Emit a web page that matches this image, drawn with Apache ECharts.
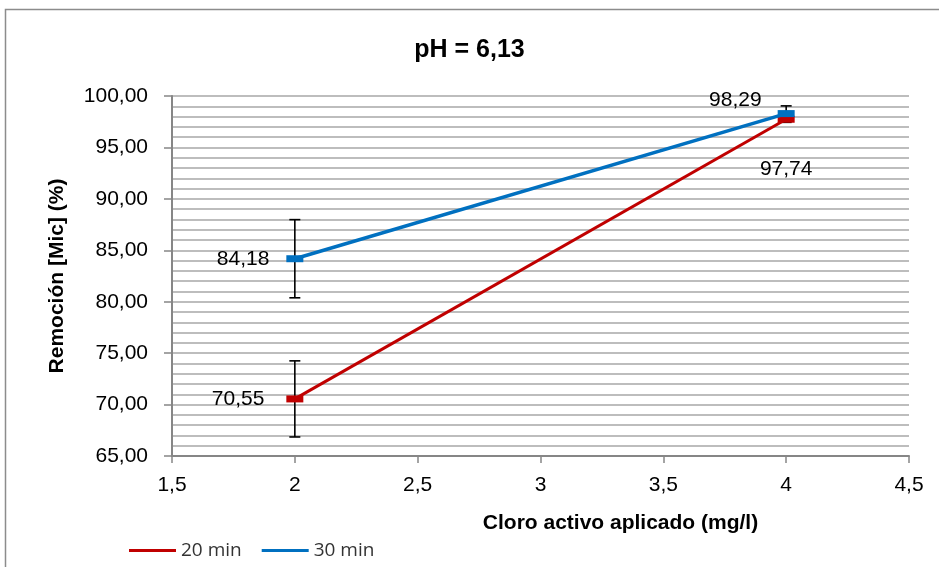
<!DOCTYPE html>
<html>
<head>
<meta charset="utf-8">
<script src="https://cdn.jsdelivr.net/npm/echarts@6/dist/echarts.min.js"></script>
<style>
  html, body { margin: 0; padding: 0; background: #fff; }
  #chart { width: 939px; height: 567px; }
</style>
</head>
<body>
<div id="chart"></div>
<script>
// Applied active chlorine dose (mg/l)
const doses = [2, 4];
// Removal of [Mic] (%) per contact time
const rem20 = [70.55, 97.74];
const rem30 = [84.18, 98.29];
// Error bar half-widths
const err20 = [3.7, 0.3];
const err30 = [3.8, 0.75];
const seriesNames = ['20 min', '30 min'];

const fmt = v => v.toFixed(2).replace('.', ',');
const FONT = "'Liberation Sans', Arial, sans-serif";

function errTriples(vals, errs) { return doses.map((d, i) => [d, vals[i], errs[i]]); }

// Point labels placed beside each marker
function points(vals, placements) {
  return doses.map((d, i) => ({ value: [d, vals[i]], label: placements[i] }));
}

function renderErr(params, api) {
  const x = api.value(0), y = api.value(1), e = api.value(2);
  const top = api.coord([x, y + e]);
  const bot = api.coord([x, y - e]);
  const hw = 5.5;
  const style = { stroke: '#000', lineWidth: 1.6 };
  return {
    type: 'group',
    children: [
      { type: 'line', shape: { x1: top[0], y1: top[1], x2: bot[0], y2: bot[1] }, style },
      { type: 'line', shape: { x1: top[0] - hw, y1: top[1], x2: top[0] + hw, y2: top[1] }, style },
      { type: 'line', shape: { x1: bot[0] - hw, y1: bot[1], x2: bot[0] + hw, y2: bot[1] }, style }
    ]
  };
}

const chart = echarts.init(document.getElementById('chart'), null, { renderer: 'canvas' });

const labelBase = { show: true, color: '#000', fontSize: 21, fontFamily: FONT, formatter: p => fmt(p.value[1]) };

chart.setOption({
  animation: false,
  backgroundColor: '#fff',
  graphic: [{
    type: 'rect',
    shape: { x: 5.5, y: 9.5, width: 1000, height: 1000 },
    style: { fill: 'none', stroke: '#8c8c8c', lineWidth: 1.5 },
    silent: true
  }],
  title: {
    text: 'pH = 6,13',
    left: 'center',
    top: 33,
    textStyle: { fontSize: 25, fontWeight: 'bold', color: '#000', fontFamily: FONT }
  },
  legend: {
    data: [
      { name: seriesNames[0], itemStyle: { color: '#c00000' } },
      { name: seriesNames[1], itemStyle: { color: '#0070c0' } }
    ],
    left: 124,
    top: 536,
    itemWidth: 47,
    itemHeight: 3,
    itemGap: 20,
    icon: 'rect',
    textStyle: { fontSize: 19, color: '#333', fontFamily: "'Open Sans', 'DejaVu Sans', sans-serif" }
  },
  grid: { left: 172, right: 30, top: 96, bottom: 111 },
  xAxis: {
    type: 'value',
    min: 1.5, max: 4.5, interval: 0.5,
    name: 'Cloro activo aplicado (mg/l)',
    nameLocation: 'middle',
    nameGap: 57,
    nameTextStyle: { fontSize: 21, fontWeight: 'bold', color: '#000', fontFamily: FONT, padding: [0, 0, 0, 160] },
    axisLine: { lineStyle: { color: '#868686', width: 2 } },
    axisTick: { show: true, length: 7, lineStyle: { color: '#868686', width: 1.5 } },
    axisLabel: { fontSize: 21, color: '#000', fontFamily: FONT, margin: 19, formatter: v => String(v).replace('.', ',') },
    splitLine: { show: false }
  },
  yAxis: {
    type: 'value',
    min: 65, max: 100, interval: 5,
    name: 'Remoción [Mic] (%)',
    nameLocation: 'middle',
    nameGap: 104,
    nameTextStyle: { fontSize: 21, fontWeight: 'bold', color: '#000', fontFamily: FONT },
    axisLine: { show: true, lineStyle: { color: '#868686', width: 2 } },
    axisTick: { show: true, length: 8, lineStyle: { color: '#868686', width: 1.5 } },
    axisLabel: { fontSize: 21, color: '#000', fontFamily: FONT, margin: 24, formatter: v => fmt(v) },
    splitLine: { show: true, lineStyle: { color: '#bdbdbd', width: 2 } },
    minorTick: { show: false, splitNumber: 5 },
    minorSplitLine: { show: true, lineStyle: { color: '#bdbdbd', width: 2 } }
  },
  series: [
    {
      type: 'custom', name: 'err20', renderItem: renderErr, data: errTriples(rem20, err20), z: 1, silent: true
    },
    {
      type: 'custom', name: 'err30', renderItem: renderErr, data: errTriples(rem30, err30), z: 1, silent: true
    },
    {
      name: seriesNames[0], type: 'line',
      data: points(rem20, [
        { position: 'left', distance: 22 },
        { position: 'bottom', distance: 36 }
      ]),
      lineStyle: { width: 3, color: '#c00000' },
      symbol: 'rect', symbolSize: [17, 7], itemStyle: { color: '#c00000' }, z: 3,
      label: labelBase
    },
    {
      name: seriesNames[1], type: 'line',
      data: points(rem30, [
        { position: 'left', distance: 17 },
        { position: 'left', distance: 16, offset: [0, -13] }
      ]),
      lineStyle: { width: 3.5, color: '#0070c0' },
      symbol: 'rect', symbolSize: [17, 7], itemStyle: { color: '#0070c0' }, z: 4,
      label: labelBase
    }
  ]
});
</script>
</body>
</html>
